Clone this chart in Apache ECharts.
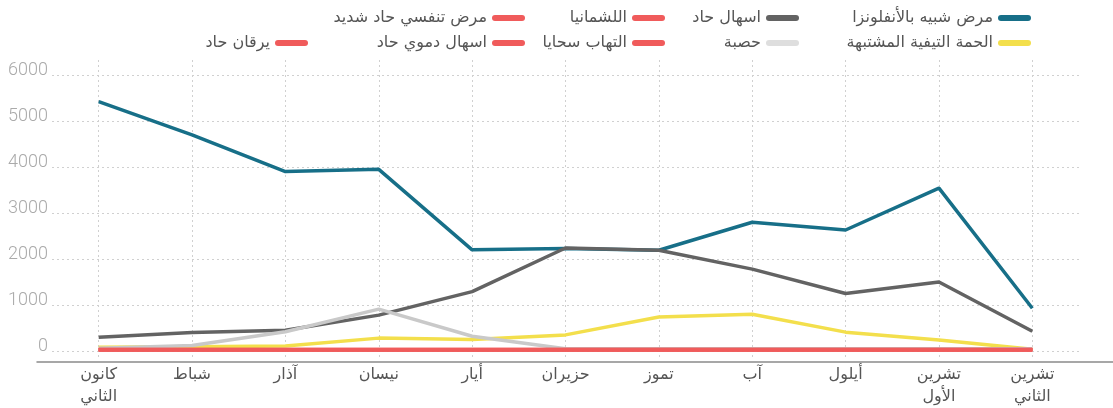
<!DOCTYPE html>
<html>
<head>
<meta charset="utf-8">
<script src="https://cdn.jsdelivr.net/npm/echarts@6/dist/echarts.min.js"></script>
<style>
  html, body { margin: 0; padding: 0; background: #fff; }
  #chart { width: 1113px; height: 408px; }
</style>
</head>
<body>
<div id="chart"></div>
<script>
// months (Arabic, Levant names)
const months = ['كانون\nالثاني', 'شباط', 'آذار', 'نيسان', 'أيار', 'حزيران', 'تموز', 'آب', 'أيلول', 'تشرين\nالأول', 'تشرين\nالثاني']

const ili = [5420, 4700, 3900, 3950, 2200, 2230, 2190, 2800, 2630, 3540, 930]
const diarrhea = [300, 400, 450, 780, 1290, 2240, 2190, 1780, 1250, 1500, 430]
const typhoid = [80, 90, 110, 280, 250, 350, 740, 800, 410, 240, 40]
const measles = [60, 120, 420, 910, 320, 50, 50, 50, 50, 50, 50]
const leish = [30, 30, 30, 30, 30, 30, 30, 30, 30, 30, 30]
const sari = [25, 25, 25, 25, 25, 25, 25, 25, 25, 25, 25]
const mening = [20, 20, 20, 20, 20, 20, 20, 20, 20, 20, 20]
const bloody = [28, 28, 28, 28, 28, 28, 28, 28, 28, 28, 28]
const jaundice = [32, 32, 32, 32, 32, 32, 32, 32, 32, 32, 32]

const yTicks = { min: 0, max: 6000, step: 1000 }

const RED = '#f05b5b'
const pill = 'path://M3,0 H30 A3,3 0 0 1 30,6 H3 A3,3 0 0 1 3,0 Z'

const chart = echarts.init(document.getElementById('chart'))

function col(right, top, data) {
  return {
    orient: 'vertical',
    align: 'right',
    right: right,
    top: top,
    padding: 0,
    itemGap: 9,
    itemWidth: 33,
    itemHeight: 6,
    icon: pill,
    textStyle: { fontSize: 16, color: '#555', lineHeight: 16, fontFamily: 'DejaVu Sans' },
    data: data
  }
}

function line(name, data, color, width) {
  return {
    name: name,
    type: 'line',
    data: data,
    xAxisIndex: 0,
    yAxisIndex: 0,
    symbol: 'none',
    lineStyle: { color: color, width: width || 3.5 },
    itemStyle: { color: color },
    animation: false
  }
}

chart.setOption({
  backgroundColor: '#fff',
  legend: [
    col(82, 10, ['مرض شبيه بالأنفلونزا', { name: 'الحمة التيفية المشتبهة' }]),
    col(314, 10, ['اسهال حاد', { name: 'حصبة', itemStyle: { color: '#dedede' } }]),
    col(448, 10, ['اللشمانيا', 'التهاب سحايا']),
    col(588, 10, ['مرض تنفسي حاد شديد', 'اسهال دموي حاد']),
    col(805, 35, ['يرقان حاد'])
  ],
  grid: [
    // plot area
    { left: 52, right: 34, top: 75, bottom: 57 },
    // category labels + vertical guides
    { left: 52, right: 34, top: 60, bottom: 46 },
    // base line
    { left: 37, right: 0, top: 60, bottom: 46 }
  ],
  xAxis: [
    {
      gridIndex: 0,
      type: 'category',
      data: months,
      boundaryGap: true,
      show: false
    },
    {
      gridIndex: 1,
      type: 'category',
      data: months,
      boundaryGap: true,
      axisLine: { show: false },
      axisTick: { show: false },
      splitLine: {
        show: true,
        alignWithLabel: true,
        lineStyle: { color: '#d0d0d0', type: [2, 3], width: 1 }
      },
      axisLabel: {
        color: '#555',
        fontSize: 16,
        lineHeight: 22,
        margin: 4,
        fontFamily: 'DejaVu Sans'
      }
    },
    {
      gridIndex: 2,
      type: 'value',
      min: 0,
      max: 1,
      axisLine: { show: true, onZero: false, lineStyle: { color: '#8a8a8a', width: 1.5 } },
      axisTick: { show: false },
      axisLabel: { show: false },
      splitLine: { show: false }
    }
  ],
  yAxis: [
    {
      gridIndex: 0,
      type: 'value',
      min: yTicks.min,
      max: yTicks.max,
      interval: yTicks.step,
      axisLine: { show: false },
      axisTick: { show: false },
      splitLine: { lineStyle: { color: '#d0d0d0', type: [2, 3], width: 1 } },
      axisLabel: {
        color: '#aaa',
        fontSize: 18,
        fontFamily: 'Roboto',
        fontWeight: 300,
        margin: 4,
        verticalAlign: 'bottom',
        lineHeight: 10,
        formatter: v => String(v)
      }
    },
    { gridIndex: 1, type: 'value', show: false, splitLine: { show: false } },
    { gridIndex: 2, type: 'value', show: false, splitLine: { show: false } }
  ],
  series: [
    line('مرض شبيه بالأنفلونزا', ili, '#176f88'),
    line('اسهال حاد', diarrhea, '#636363'),
    line('الحمة التيفية المشتبهة', typhoid, '#f3df4c'),
    line('حصبة', measles, '#c9c9c9'),
    line('اللشمانيا', leish, RED),
    line('مرض تنفسي حاد شديد', sari, RED),
    line('التهاب سحايا', mening, RED),
    line('اسهال دموي حاد', bloody, RED),
    line('يرقان حاد', jaundice, RED)
  ]
})
</script>
</body>
</html>
